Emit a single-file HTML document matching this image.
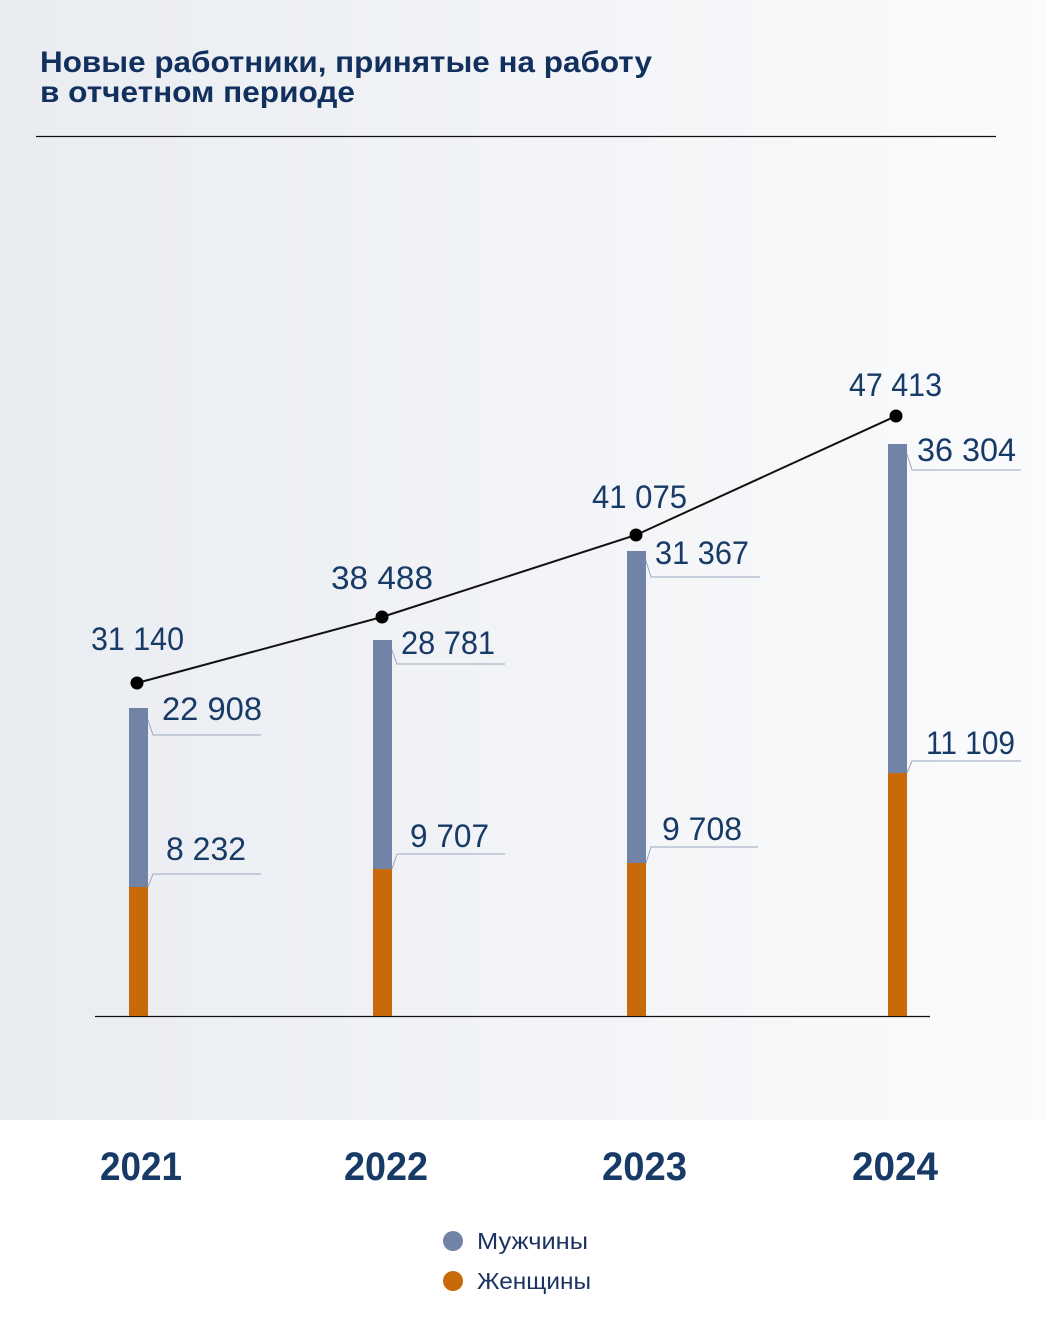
<!DOCTYPE html>
<html><head><meta charset="utf-8"><style>
body{margin:0;width:1046px;height:1332px;background:#fff;overflow:hidden}
svg{display:block}
text{font-family:"Liberation Sans","DejaVu Sans",sans-serif;fill:#173a66}
</style></head><body>
<svg width="1046" height="1332" viewBox="0 0 1046 1332">
<defs><linearGradient id="g" x1="0" x2="1" y1="0" y2="0"><stop offset="0" stop-color="#e9ecf1"/><stop offset="1" stop-color="#fafbfc"/></linearGradient></defs>
<rect x="0" y="0" width="1046" height="1120" fill="url(#g)"/>
<text x="40" y="72" font-size="30" font-weight="bold" textLength="612" lengthAdjust="spacingAndGlyphs" style="fill:#12305e">Новые работники, принятые на работу</text>
<text x="40" y="102" font-size="30" font-weight="bold" textLength="315" lengthAdjust="spacingAndGlyphs" style="fill:#12305e">в отчетном периоде</text>
<line x1="36" y1="136.5" x2="996" y2="136.5" stroke="#111" stroke-width="1.2"/>
<line x1="95" y1="1016.5" x2="930" y2="1016.5" stroke="#111" stroke-width="1.2"/>
<g>
<rect x="129" y="708" width="19" height="179" fill="#7283a8"/><rect x="129" y="887" width="19" height="129" fill="#c8690a"/>
<rect x="373" y="640" width="19" height="229" fill="#7283a8"/><rect x="373" y="869" width="19" height="147" fill="#c8690a"/>
<rect x="627" y="551" width="19" height="312" fill="#7283a8"/><rect x="627" y="863" width="19" height="153" fill="#c8690a"/>
<rect x="888" y="444" width="19" height="329" fill="#7283a8"/><rect x="888" y="773" width="19" height="243" fill="#c8690a"/>
</g>
<g fill="none" stroke="#9aa6bf" stroke-width="1">
<polyline points="148,720 153,735 261,735"/>
<polyline points="148,887 153,874 261,874"/>
<polyline points="392,650 397,664 505,664"/>
<polyline points="392,869 397,854 505,854"/>
<polyline points="646,561 651,577 760,577"/>
<polyline points="646,863 651,847 758,847"/>
<polyline points="907,454 912,470 1021,470"/>
<polyline points="907,773 912,761 1021,761"/>
</g>
<polyline points="137,683 382,617 636,535 896,416" fill="none" stroke="#111" stroke-width="2"/>
<g fill="#000"><circle cx="137" cy="683" r="6.5"/><circle cx="382" cy="617" r="6.5"/><circle cx="636" cy="535" r="6.5"/><circle cx="896" cy="416" r="6.5"/></g>
<g font-size="32">
<text x="91" y="650" textLength="93" lengthAdjust="spacingAndGlyphs">31 140</text>
<text x="331" y="589" textLength="102" lengthAdjust="spacingAndGlyphs">38 488</text>
<text x="592" y="508" textLength="95" lengthAdjust="spacingAndGlyphs">41 075</text>
<text x="849" y="396" textLength="93" lengthAdjust="spacingAndGlyphs">47 413</text>
<text x="162" y="720" textLength="100" lengthAdjust="spacingAndGlyphs">22 908</text>
<text x="166" y="860" textLength="80" lengthAdjust="spacingAndGlyphs">8 232</text>
<text x="401" y="654" textLength="94" lengthAdjust="spacingAndGlyphs">28 781</text>
<text x="410" y="847" textLength="79" lengthAdjust="spacingAndGlyphs">9 707</text>
<text x="655" y="564" textLength="94" lengthAdjust="spacingAndGlyphs">31 367</text>
<text x="662" y="840" textLength="80" lengthAdjust="spacingAndGlyphs">9 708</text>
<text x="917" y="461" textLength="99" lengthAdjust="spacingAndGlyphs">36 304</text>
<text x="926" y="754" textLength="89" lengthAdjust="spacingAndGlyphs">11 109</text>
</g>
<g font-size="40" font-weight="bold" style="fill:#1c3461">
<text x="100" y="1180" textLength="82" lengthAdjust="spacingAndGlyphs">2021</text>
<text x="344" y="1180" textLength="84" lengthAdjust="spacingAndGlyphs">2022</text>
<text x="602" y="1180" textLength="85" lengthAdjust="spacingAndGlyphs">2023</text>
<text x="852" y="1180" textLength="86" lengthAdjust="spacingAndGlyphs">2024</text>
</g>
<circle cx="453" cy="1241" r="10" fill="#7283a8"/>
<circle cx="453" cy="1281" r="10" fill="#c8690a"/>
<text x="477" y="1249" font-size="23" textLength="111" lengthAdjust="spacingAndGlyphs" style="fill:#1c3461">Мужчины</text>
<text x="477" y="1289" font-size="23" textLength="114" lengthAdjust="spacingAndGlyphs" style="fill:#1c3461">Женщины</text>
</svg>
</body></html>
